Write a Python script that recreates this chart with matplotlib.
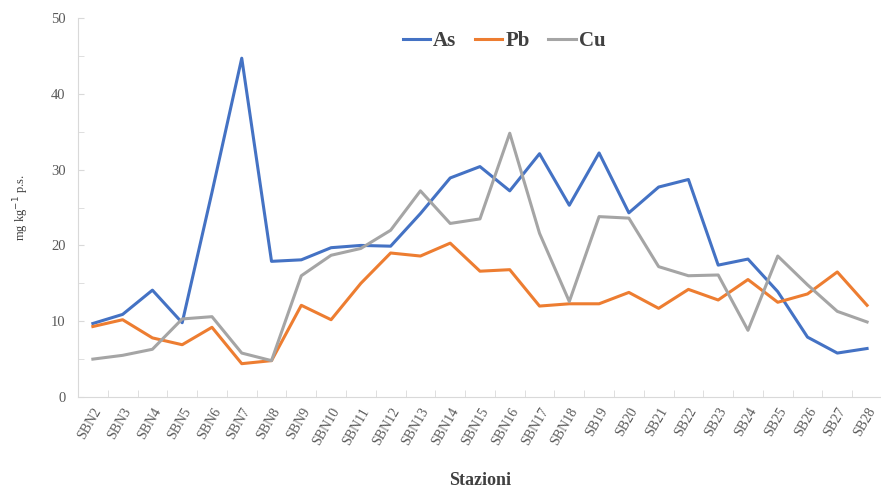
import matplotlib.pyplot as plt
from matplotlib.ticker import MultipleLocator, FixedLocator

# stations and concentrations (mg/kg p.s.)
stazioni = ["SBN2", "SBN3", "SBN4", "SBN5", "SBN6", "SBN7", "SBN8", "SBN9", "SBN10",
            "SBN11", "SBN12", "SBN13", "SBN14", "SBN15", "SBN16", "SBN17", "SBN18",
            "SB19", "SB20", "SB21", "SB22", "SB23", "SB24", "SB25", "SB26", "SB27", "SB28"]
As = [9.7, 10.9, 14.1, 9.8, 27.0, 44.7, 17.9, 18.1, 19.7, 20.0, 19.9, 24.2, 28.9, 30.4,
      27.2, 32.1, 25.3, 32.2, 24.3, 27.7, 28.7, 17.4, 18.2, 13.9, 7.9, 5.8, 6.4]
Pb = [9.3, 10.2, 7.8, 6.9, 9.2, 4.4, 4.8, 12.1, 10.2, 15.0, 19.0, 18.6, 20.3, 16.6,
      16.8, 12.0, 12.3, 12.3, 13.8, 11.7, 14.2, 12.8, 15.5, 12.5, 13.6, 16.5, 12.1]
Cu = [5.0, 5.5, 6.3, 10.3, 10.6, 5.8, 4.8, 16.0, 18.7, 19.6, 22.0, 27.2, 22.9, 23.5,
      34.8, 21.6, 12.6, 23.8, 23.6, 17.2, 16.0, 16.1, 8.8, 18.6, 14.8, 11.3, 9.9]

plt.rcParams['font.family'] = ['Liberation Serif', 'DejaVu Serif']

fig = plt.figure(figsize=(8.81, 4.91), dpi=100)
ax = fig.add_axes([0.0885, 0.1914, 0.9126, 0.7719])

x = range(len(stazioni))
ax.plot(x, As, color="#4472C4", lw=2.2, label="As")
ax.plot(x, Pb, color="#ED7D31", lw=2.2, label="Pb")
ax.plot(x, Cu, color="#A5A5A5", lw=2.2, label="Cu")

ax.set_xlim(-0.5, len(stazioni) - 0.5)
ax.set_ylim(0, 50)
ax.yaxis.set_major_locator(MultipleLocator(10))
ax.yaxis.set_minor_locator(MultipleLocator(5))

ax.set_xticks(list(x))
ax.set_xticklabels(stazioni, rotation=60, ha="right", rotation_mode="anchor",
                   fontsize=10, color="#595959")
ax.xaxis.set_minor_locator(FixedLocator([i - 0.5 for i in range(len(stazioni) + 1)]))
ax.tick_params(axis="x", which="major", length=0, pad=6)
ax.tick_params(axis="x", which="minor", direction="in", length=5, color="#D9D9D9")
ax.tick_params(axis="y", which="both", direction="in", length=4, color="#D9D9D9",
               labelsize=10.5, labelcolor="#595959", pad=9)

for s in ["top", "right"]:
    ax.spines[s].set_visible(False)
ax.spines["left"].set_color("#D9D9D9")
ax.spines["bottom"].set_color("#D9D9D9")

ax.set_ylabel("mg kg$^{-1}$ p.s.", fontsize=9, color="#404040", labelpad=14)
ax.set_xlabel("Stazioni", fontsize=13, fontweight="bold", color="#404040", labelpad=18)

leg = ax.legend(loc="upper center", bbox_to_anchor=(0.53, 1.015), ncol=3, frameon=False,
                prop={"size": 15, "weight": "bold"}, handlelength=1.3,
                handletextpad=0.15, columnspacing=0.9)
for t in leg.get_texts():
    t.set_color("#404040")

fig.savefig("out.png", dpi=100)
